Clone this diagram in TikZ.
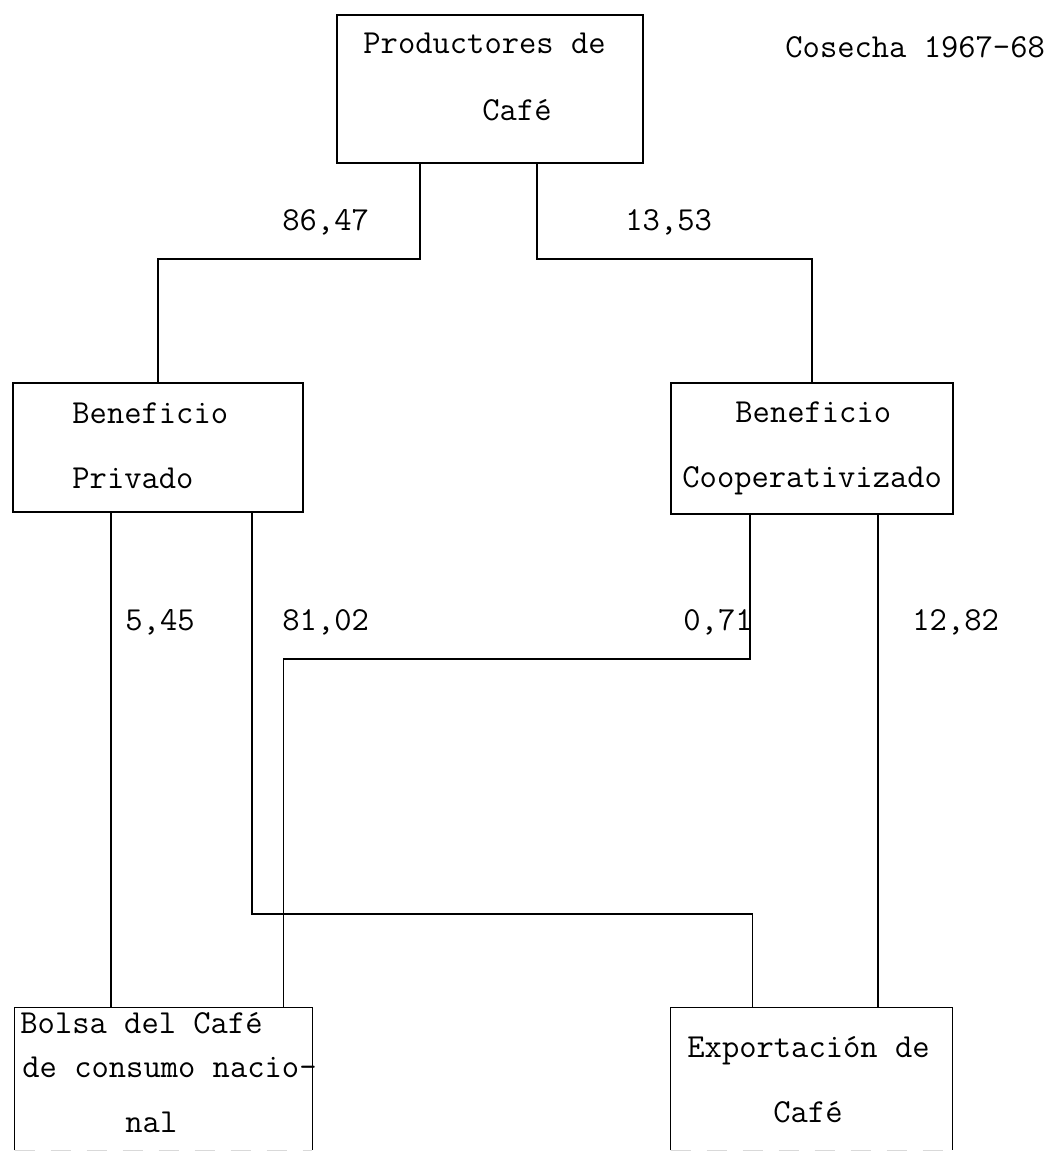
\documentclass[tikz,border=0pt]{standalone}
\usetikzlibrary{calc}
\begin{document}
\begin{tikzpicture}[x=0.5pt,y=-0.5pt,
  every node/.style={font=\ttfamily\fontsize{16.8}{19}\selectfont},
  box/.style={draw, line width=0.8pt, inner sep=0pt, minimum width=#1},
  openbox/.style={inner sep=0pt, minimum width=#1},
  txt/.style={inner sep=0pt, anchor=west, text height=1.5ex, text depth=0.3ex},
  flow/.style={line width=0.8pt}]
\useasboundingbox (0,0) rectangle (1051,1151);

% boxes
\node[box=153pt, minimum height=74pt]   (prod)  at (490,89) {};
\node[box=145pt, minimum height=64.5pt] (priv)  at (158,447.5) {};
\node[box=141pt, minimum height=65.5pt] (coop)  at (812,448.5) {};
\node[openbox=148.5pt, minimum height=71pt] (bolsa) at (163.5,1079) {};
\node[openbox=140.5pt, minimum height=71pt] (expo)  at (811.5,1079) {};

% the two lower boxes run off the page edge: faint bottom rule
\foreach \b in {bolsa,expo}{
  \draw[flow] (\b.south west) |- (\b.north east) -- (\b.south east);
  \draw[line width=0.5pt, black!15, dash pattern=on 10pt off 8pt] (\b.south west) -- (\b.south east);
}

% box texts
\node[txt] (t1a) at (363,48)  {Productores de};
\node[txt] (t1b) at (482,115) {Café};
\node[txt] (t2a) at (72,418)  {Beneficio};
\node[txt] (t2b) at (72,483)  {Privado};
\node[txt] (t3a) at (735,417) {Beneficio};
\node[txt] (t3b) at (682,482) {Cooperativizado};
\node[txt] (t4a) at (20,1028) {Bolsa del Café};
\node[txt] (t4b) at (22,1072) {de consumo nacio-};
\node[txt] (t4c) at (125,1127) {nal};
\node[txt] (t5a) at (687,1052) {Exportación de};
\node[txt] (t5b) at (773,1117) {Café};

% heading
\node[txt] (head) at (785,52) {Cosecha 1967-68};

% flows
\draw[flow] ($(prod.south west)+(84,0)$) -- ++(0,95) -| (priv.north);
\draw[flow] ($(prod.south west)+(201,0)$) -- ++(0,95) -| (coop.north);
\draw[flow] ($(priv.south west)+(99,0)$) coordinate (p1) -- (p1 |- bolsa.north);
\draw[flow] ($(priv.south west)+(240,0)$) -- ++(0,401) -| ($(expo.north west)+(82,0)$);
\draw[flow] ($(coop.south west)+(80,0)$) -- ++(0,144) -| ($(bolsa.north west)+(269,0)$);
\draw[flow] ($(coop.south west)+(208,0)$) coordinate (c2) -- (c2 |- expo.north);

% shares
\node[txt] (l1) at (282,225) {86,47};
\node[txt] (l2) at (625,225) {13,53};
\node[txt] (l3) at (125,625) {5,45};
\node[txt] (l4) at (282,625) {81,02};
\node[txt] (l5) at (683,625) {0,71};
\node[txt] (l6) at (912,625) {12,82};
\end{tikzpicture}
\end{document}
